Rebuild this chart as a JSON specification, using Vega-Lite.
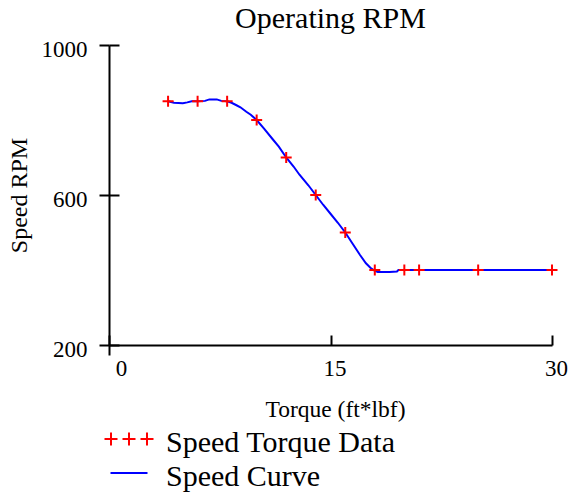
{
  "$schema": "https://vega.github.io/schema/vega-lite/v6.json",
  "width": 443,
  "height": 300,
  "autosize": {"type": "none"},
  "padding": {"left": 109, "top": 45, "right": 18, "bottom": 151},
  "title": {"text": "Operating RPM", "font": "Liberation Serif", "fontSize": 30, "fontWeight": "normal", "color": "black", "anchor": "middle", "frame": "group", "baseline": "alphabetic", "offset": -20},
  "config": {
    "font": "Liberation Serif",
    "view": {"stroke": null},
    "axis": {"grid": false, "domainColor": "black", "tickColor": "black", "labelColor": "black", "titleColor": "black", "domainWidth": 2, "tickWidth": 2, "labelFont": "Liberation Serif", "titleFont": "Liberation Serif", "titleFontWeight": "normal"},
    "legend": {"padding": 0}
  },
  "datasets": {
    "points": [
      {"torque": 4, "speed": 850, "series": "Speed Torque Data"},
      {"torque": 6, "speed": 850, "series": "Speed Torque Data"},
      {"torque": 8, "speed": 850, "series": "Speed Torque Data"},
      {"torque": 10, "speed": 800, "series": "Speed Torque Data"},
      {"torque": 12, "speed": 700, "series": "Speed Torque Data"},
      {"torque": 14, "speed": 600, "series": "Speed Torque Data"},
      {"torque": 16, "speed": 500, "series": "Speed Torque Data"},
      {"torque": 18, "speed": 400, "series": "Speed Torque Data"},
      {"torque": 20, "speed": 400, "series": "Speed Torque Data"},
      {"torque": 21, "speed": 400, "series": "Speed Torque Data"},
      {"torque": 25, "speed": 400, "series": "Speed Torque Data"},
      {"torque": 30, "speed": 400, "series": "Speed Torque Data"}
    ],
    "curve": [
      {"torque": 4.0, "speed": 850, "series": "Speed Curve"},
      {"torque": 4.4, "speed": 846, "series": "Speed Curve"},
      {"torque": 5.0, "speed": 845, "series": "Speed Curve"},
      {"torque": 5.3, "speed": 847, "series": "Speed Curve"},
      {"torque": 5.6, "speed": 850, "series": "Speed Curve"},
      {"torque": 6.0, "speed": 850, "series": "Speed Curve"},
      {"torque": 6.5, "speed": 851, "series": "Speed Curve"},
      {"torque": 6.8, "speed": 855, "series": "Speed Curve"},
      {"torque": 7.3, "speed": 855, "series": "Speed Curve"},
      {"torque": 7.6, "speed": 851, "series": "Speed Curve"},
      {"torque": 8.0, "speed": 850, "series": "Speed Curve"},
      {"torque": 8.3, "speed": 846, "series": "Speed Curve"},
      {"torque": 8.6, "speed": 840, "series": "Speed Curve"},
      {"torque": 8.9, "speed": 834, "series": "Speed Curve"},
      {"torque": 9.3, "speed": 822, "series": "Speed Curve"},
      {"torque": 9.6, "speed": 814, "series": "Speed Curve"},
      {"torque": 10.0, "speed": 800, "series": "Speed Curve"},
      {"torque": 10.5, "speed": 777, "series": "Speed Curve"},
      {"torque": 11.1, "speed": 748, "series": "Speed Curve"},
      {"torque": 11.5, "speed": 729, "series": "Speed Curve"},
      {"torque": 12.0, "speed": 700, "series": "Speed Curve"},
      {"torque": 12.5, "speed": 676, "series": "Speed Curve"},
      {"torque": 12.9, "speed": 654, "series": "Speed Curve"},
      {"torque": 13.5, "speed": 626, "series": "Speed Curve"},
      {"torque": 14.0, "speed": 600, "series": "Speed Curve"},
      {"torque": 14.5, "speed": 574, "series": "Speed Curve"},
      {"torque": 15.0, "speed": 550, "series": "Speed Curve"},
      {"torque": 15.5, "speed": 526, "series": "Speed Curve"},
      {"torque": 16.0, "speed": 500, "series": "Speed Curve"},
      {"torque": 16.5, "speed": 470, "series": "Speed Curve"},
      {"torque": 17.0, "speed": 440, "series": "Speed Curve"},
      {"torque": 17.4, "speed": 418, "series": "Speed Curve"},
      {"torque": 17.7, "speed": 406, "series": "Speed Curve"},
      {"torque": 18.0, "speed": 398, "series": "Speed Curve"},
      {"torque": 18.2, "speed": 395, "series": "Speed Curve"},
      {"torque": 19.0, "speed": 395, "series": "Speed Curve"},
      {"torque": 19.5, "speed": 396, "series": "Speed Curve"},
      {"torque": 19.6, "speed": 400, "series": "Speed Curve"},
      {"torque": 20.0, "speed": 400, "series": "Speed Curve"},
      {"torque": 21.0, "speed": 400, "series": "Speed Curve"},
      {"torque": 25.0, "speed": 400, "series": "Speed Curve"},
      {"torque": 30.0, "speed": 400, "series": "Speed Curve"}
    ]
  },
  "layer": [
    {
      "data": {"name": "curve"},
      "mark": {"type": "line", "strokeWidth": 2, "interpolate": "linear"},
      "encoding": {
        "x": {"field": "torque", "type": "quantitative", "scale": {"domain": [0, 30], "nice": false, "zero": false},
          "axis": {"orient": "bottom", "values": [0, 15, 30], "tickSize": -10, "labelPadding": 22, "labelFontSize": 23, "labelFlush": false, "labelAngle": 0,
            "labelOffset": {"condition": {"test": "datum.value === 0", "value": 12}, "value": 4},
            "title": "Torque (ft*lbf)", "titleFontSize": 23.5, "titleX": 226, "titleY": 64, "titleBaseline": "middle", "titleAlign": "center", "titlePadding": 0}},
        "y": {"field": "speed", "type": "quantitative", "scale": {"domain": [200, 1000], "nice": false, "zero": false},
          "axis": {"orient": "left", "values": [200, 600, 1000], "format": "d", "tickSize": 10, "labelPadding": 12, "labelFontSize": 23, "labelOffset": 4, "labelFlush": false,
            "title": "Speed RPM", "titleFontSize": 24, "titlePadding": 10}},
        "color": {"field": "series", "type": "nominal",
          "scale": {"domain": ["Speed Torque Data", "Speed Curve"], "range": ["#ff0000", "#0000ff"]},
          "legend": {"title": null, "orient": "none", "legendX": 5, "legendY": 379, "direction": "vertical",
            "symbolSize": 625, "labelFont": "Liberation Serif", "labelFontSize": 30, "labelColor": "black", "labelOffset": 22, "rowPadding": -1, "labelLimit": 400,
            "encode": {
              "labels": {"update": {"dy": {"value": 4}}},
              "symbols": {"update": {
              "shape": {"signal": "datum.value === 'Speed Torque Data' ? 'M-1.96,0H-0.92M-1.44,-0.52V0.52M-0.52,0H0.52M0,-0.52V0.52M0.92,0H1.96M1.44,-0.52V0.52' : 'M-1.48,0H1.48'"},
              "size": {"value": 625},
              "fill": {"value": "transparent"},
              "stroke": {"signal": "datum.value === 'Speed Torque Data' ? '#ff0000' : '#0000ff'"},
              "strokeWidth": {"value": 2},
              "opacity": {"value": 1}}}}}}
      }
    },
    {
      "data": {"name": "points"},
      "mark": {"type": "point", "shape": "M-1,0H1M0,-1V1", "filled": false, "size": 121, "strokeWidth": 2, "opacity": 1},
      "encoding": {
        "x": {"field": "torque", "type": "quantitative",
          "axis": {"orient": "bottom", "values": [0], "tickSize": 10, "labels": false, "domain": false, "title": null}},
        "y": {"field": "speed", "type": "quantitative",
          "axis": {"orient": "left", "values": [200, 600, 1000], "tickSize": -10, "labels": false, "domain": false, "title": null}},
        "color": {"field": "series", "type": "nominal"}
      }
    }
  ],
  "resolve": {"axis": {"x": "independent", "y": "independent"}}
}
